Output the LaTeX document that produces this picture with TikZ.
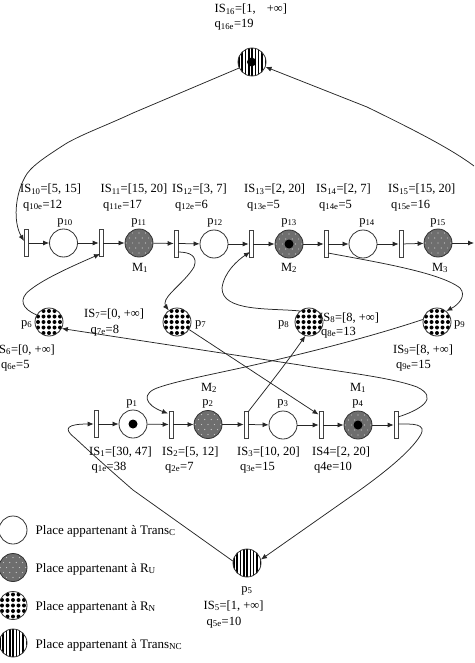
\documentclass[tikz,border=0pt]{standalone}
\usepackage{fontspec}
\setmainfont{Liberation Serif}
\usetikzlibrary{arrows.meta}
\newcommand{\sbs}[1]{\textsubscript{#1}}
\tikzset{
  plc/.style={circle,draw=black!80,line width=0.8pt,minimum size=28pt,inner sep=0pt,fill=white},
  placeT/.style={plc},
  placeRU/.style={plc,fill=black!57,path picture={
    \foreach \i in {-3,...,3} \foreach \j in {-3,...,3}{
      \fill[white!80!black] (path picture bounding box.center) ++({\i*6.4+mod(\j+10,2)*3.2},{\j*5}) circle (0.6);}}},
  placeRN/.style={plc,path picture={
    \foreach \i in {-3,...,3} \foreach \j in {-3,...,3}{
      \fill[black] (path picture bounding box.center) ++({\i*5.5},{\j*5.5}) circle (2.0);}}},
  placeNC/.style={plc,path picture={
    \foreach \i in {-5,...,5}{
      \fill[black] (path picture bounding box.center) ++({\i*3.3-0.7},-15) rectangle ++(1.5,30);}}},
  token/.style={circle,fill=black,minimum size=9pt,inner sep=0pt},
  trans/.style={rectangle,draw=black!75,line width=0.7pt,fill=white,minimum width=4pt,minimum height=27pt,inner sep=0pt},
  arc/.style={line width=0.75pt,draw=black!85,-{Latex[length=6pt,width=5pt]}},
  txt/.style={inner sep=0pt,anchor=base west,font=\fontsize{12.5}{12.5}\selectfont},
  ltxt/.style={inner sep=0pt,anchor=base west,font=\fontsize{13}{13}\selectfont},
  ctxt/.style={inner sep=0pt,anchor=base,font=\fontsize{12.5}{12.5}\selectfont}
}
\begin{document}
\begin{tikzpicture}[x=1pt,y=-1pt]
\useasboundingbox (0,0) rectangle (474,663);
% top row
\node[trans] (t10) at (26.5,243) {};
\node[placeT] (p10) at (63.5,243) {};
\node[trans] (t11) at (101,243) {};
\node[placeRU] (p11) at (139,243) {};
\node[trans] (t12) at (176,243.5) {};
\node[placeT] (p12) at (214,244) {};
\node[trans] (t13) at (251,244) {};
\node[placeRU] (p13) at (289,244) {};
\node[trans] (t14) at (326,244) {};
\node[placeT] (p14) at (363,244) {};
\node[trans] (t15) at (401,244) {};
\node[placeRU] (p15) at (438,243) {};
\coordinate (e15) at (474,243);
\node[token] (k13) at (289,244) {};
% p16
\node[placeNC] (p16) at (252,62) {};
\node[token] (k16) at (251.5,62) {};
% middle
\node[placeRN] (p6) at (49,322) {};
\node[placeRN] (p7) at (177,322) {};
\node[placeRN] (p8) at (309,322) {};
\node[placeRN] (p9) at (437,322) {};
% bottom row
\node[trans] (t1) at (96,424) {};
\node[placeT] (p1) at (133,424) {};
\node[token] (k1) at (133,424) {};
\node[trans] (t2) at (171,424.5) {};
\node[placeRU] (p2) at (208,424.5) {};
\node[trans] (t3) at (246,424.5) {};
\node[placeT] (p3) at (283,425) {};
\node[trans] (t4) at (321,425) {};
\node[placeRU] (p4) at (358,425) {};
\node[token] (k4) at (358,425) {};
\node[trans] (t5) at (396,425) {};
\node[placeNC] (p5) at (247,563) {};
% legend
\node[placeT] (l1) at (13,530) {};
\node[placeRU] (l2) at (13,567.5) {};
\node[placeRN] (l3) at (13,605.5) {};
\node[placeNC] (l4) at (13,643) {};
% connector ends on the transition bars
\coordinate (r16) at (474,166);
\coordinate (i11) at (100,254);
\coordinate (o12) at (178,252);
\coordinate (i13) at (250,252);
\coordinate (o14) at (328,253);
\coordinate (i2) at (168,413.5);
\coordinate (o3) at (248,412);
\coordinate (i4) at (318.5,414.5);
\coordinate (o5) at (398,417);
\coordinate (o5b) at (398,424);
\coordinate (i10) at (24,241);
% straight arcs
\foreach \a/\b in {t10/p10,p10/t11,t11/p11,p11/t12,t12/p12,p12/t13,t13/p13,p13/t14,t14/p14,p14/t15,t15/p15,p15/e15,
  t1/p1,p1/t2,t2/p2,p2/t3,t3/p3,p3/t4,t4/p4,p4/t5}
  \draw[arc] (\a) -- (\b);
% curved arcs
\draw[arc] (p16.205) -- (133,113) .. controls (105,126) and (85,133) .. (67,143) .. controls (45,157) and (30,167) .. (25,177) .. controls (15,195) and (13,222) .. (i10);
\draw[arc] (r16) .. controls (450,148) and (410,128) .. (367,107) -- (p16.-20);
\draw[arc] (p6.150) .. controls (22,309) and (18,299) .. (30,290) .. controls (45,278) and (75,265) .. (i11);
\draw[arc] (o12) .. controls (190,252) and (198,256) .. (194,267) .. controls (185,282) and (165,295) .. (165,303) .. controls (165,306) and (167,308) .. (p7.125);
\draw[arc] (p8.130) .. controls (270,308) and (222,312) .. (222,288) .. controls (224,272) and (238,260) .. (i13);
\draw[arc] (o14) .. controls (370,261) and (440,272) .. (460,288) .. controls (467,296) and (458,305) .. (p9.50);
\draw[arc] (p9.170) .. controls (370,337) and (310,352) .. (267,362) .. controls (225,372) and (180,380) .. (160,387) .. controls (140,393) and (145,405) .. (i2);
\draw[arc] (o3) .. controls (265,390) and (285,365) .. (p8.-105);
\draw[arc] (p7.-32) -- (i4);
\draw[arc] (o5) .. controls (420,410) and (440,398) .. (417,387) .. controls (390,377) and (340,372) .. (300,365) -- (p6.-27);
\draw[arc] (o5b) .. controls (412,424) and (428,423) .. (420,436) .. controls (410,452) and (385,472) .. (360,490) -- (p5.14);
\draw[arc] (p5.172) -- (133,490) .. controls (110,470) and (90,452) .. (75,438) .. controls (62,428) and (68,424) .. (t1);
% texts top
\node[txt] (a16) at (214.5,13) {IS\sbs{16}=[1,\hspace{0.9em}+∞]};
\node[txt] (b16) at (214.5,28) {q\sbs{16e}=19};
\node[txt] (a10) at (20,193) {IS\sbs{10}=[5, 15]};
\node[txt] (b10) at (23,208) {q\sbs{10e}=12};
\node[txt] (a11) at (100.5,193) {IS\sbs{11}=[15, 20]};
\node[txt] (b11) at (103,208) {q\sbs{11e}=17};
\node[txt] (a12) at (172,193) {IS\sbs{12}=[3, 7]};
\node[txt] (b12) at (175,208) {q\sbs{12e}=6};
\node[txt] (a13) at (244,193) {IS\sbs{13}=[2, 20]};
\node[txt] (b13) at (247,208) {q\sbs{13e}=5};
\node[txt] (a14) at (316,193) {IS\sbs{14}=[2, 7]};
\node[txt] (b14) at (319,208) {q\sbs{14e}=5};
\node[txt] (a15) at (388,193) {IS\sbs{15}=[15, 20]};
\node[txt] (b15) at (391,208) {q\sbs{15e}=16};
\node[ctxt] (n10) at (65,224) {p\sbs{10}};
\node[ctxt] (n11) at (139,224) {p\sbs{11}};
\node[ctxt] (n12) at (215,224) {p\sbs{12}};
\node[ctxt] (n13) at (289,224) {p\sbs{13}};
\node[ctxt] (n14) at (367,224) {p\sbs{14}};
\node[ctxt] (n15) at (438,224) {p\sbs{15}};
\node[ctxt] (m1) at (140,271) {M\sbs{1}};
\node[ctxt] (m2) at (289,271) {M\sbs{2}};
\node[ctxt] (m3) at (440,271) {M\sbs{3}};
% texts middle
\node[ctxt,anchor=base west] (n6) at (21,326) {p\sbs{6}};
\node[ctxt,anchor=base west] (n7) at (195,326) {p\sbs{7}};
\node[ctxt,anchor=base west] (n8) at (278,326) {p\sbs{8}};
\node[ctxt,anchor=base west] (n9) at (454,326) {p\sbs{9}};
\node[txt] (a7) at (84,317) {IS\sbs{7}=[0, +∞]};
\node[txt] (b7) at (90.5,333) {q\sbs{7e}=8};
\node[txt] (a8) at (319,321) {IS\sbs{8}=[8, +∞]};
\node[txt] (b8) at (321,335) {q\sbs{8e}=13};
\node[txt] (a6) at (-1,353) {S\sbs{6}=[0, +∞]};
\node[txt] (b6) at (1,368) {q\sbs{6e}=5};
\node[txt] (a9) at (393,353) {IS\sbs{9}=[8, +∞]};
\node[txt] (b9) at (396,368) {q\sbs{9e}=15};
% texts bottom
\node[ctxt] (n1) at (132,405) {p\sbs{1}};
\node[ctxt] (n2) at (208,405) {p\sbs{2}};
\node[ctxt] (n3) at (283,405) {p\sbs{3}};
\node[ctxt] (n4) at (358,405) {p\sbs{4}};
\node[ctxt] (m2b) at (209,391) {M\sbs{2}};
\node[ctxt] (m1b) at (358,391) {M\sbs{1}};
\node[txt] (a1) at (89,455) {IS\sbs{1}=[30, 47]};
\node[txt] (b1) at (91.5,470) {q\sbs{1e}=38};
\node[txt] (a2) at (162,455) {IS\sbs{2}=[5, 12]};
\node[txt] (b2) at (165,470) {q\sbs{2e}=7};
\node[txt] (a3) at (237,455) {IS\sbs{3}=[10, 20]};
\node[txt] (b3) at (240,470) {q\sbs{3e}=15};
\node[txt] (a4) at (312,455) {IS4=[2, 20]};
\node[txt] (b4) at (314,470) {q4e=10};
\node[ctxt] (n5) at (247,592) {p\sbs{5}};
\node[txt] (a5) at (203.5,609) {IS\sbs{5}=[1, +∞]};
\node[txt] (b5) at (206.5,625) {q\sbs{5e}=10};
% legend text
\node[ltxt] (lt1) at (35.5,534) {Place appartenant à Trans\sbs{C}};
\node[ltxt] (lt2) at (35.5,572) {Place appartenant à R\sbs{U}};
\node[ltxt] (lt3) at (35.5,610) {Place appartenant à R\sbs{N}};
\node[ltxt] (lt4) at (35.5,648) {Place appartenant à Trans\sbs{NC}};
\end{tikzpicture}
\end{document}
